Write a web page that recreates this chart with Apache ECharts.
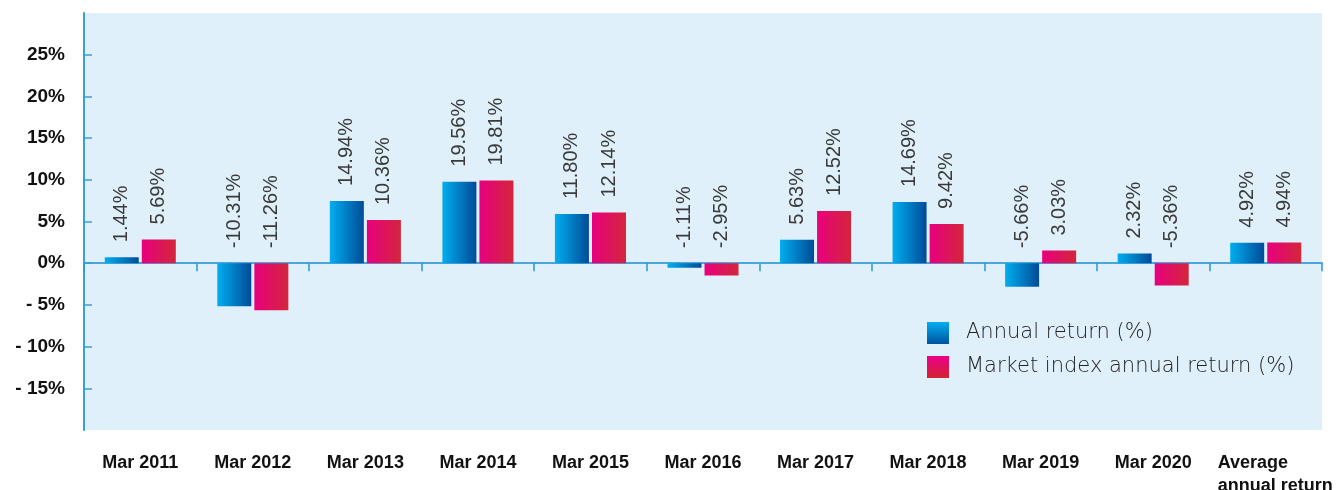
<!DOCTYPE html>
<html>
<head>
<meta charset="utf-8">
<script src="https://cdn.jsdelivr.net/npm/echarts@6/dist/echarts.min.js"></script>
<style>
  html, body { margin: 0; padding: 0; background: #fff; }
  #chart { width: 1336px; height: 490px; }
</style>
</head>
<body>
<div id="chart"></div>
<script>
const categories = ["Mar 2011", "Mar 2012", "Mar 2013", "Mar 2014", "Mar 2015", "Mar 2016", "Mar 2017", "Mar 2018", "Mar 2019", "Mar 2020", "Average\nannual return"]
const annualReturn = [1.44, -10.31, 14.94, 19.56, 11.80, -1.11, 5.63, 14.69, -5.66, 2.32, 4.92]
const marketReturn = [5.69, -11.26, 10.36, 19.81, 12.14, -2.95, 12.52, 9.42, 3.03, -5.36, 4.94]
// in the source picture the printed axis labels are half the bar values
const yTickLabels = [-15, -10, -5, 0, 5, 10, 15, 20, 25]
const axisScale = 2

const chart = echarts.init(document.getElementById("chart"))

const hGrad = (a, b) => new echarts.graphic.LinearGradient(0, 0, 1, 0, [{ offset: 0, color: a }, { offset: 1, color: b }])
const vGrad = (a, b) => new echarts.graphic.LinearGradient(0, 0, 0, 1, [{ offset: 0, color: a }, { offset: 1, color: b }])

const barLabel = {
  show: true,
  position: "top",
  rotate: 90,
  align: "left",
  verticalAlign: "middle",
  distance: 15,
  fontFamily: "Liberation Sans",
  fontSize: 20,
  color: "#3a3a3a",
  formatter: p => p.value.toFixed(2) + "%"
}

const option = {
  animation: false,
  grid: {
    left: 84,
    right: 14,
    top: 13,
    bottom: 60,
    outerBoundsMode: "none",
    containLabel: false,
    show: true,
    backgroundColor: "#dff0fb",
    borderWidth: 0
  },
  legend: {
    orient: "vertical",
    left: 927,
    top: 322,
    padding: 0,
    itemWidth: 22,
    itemHeight: 22,
    itemGap: 12,
    icon: "rect",
    textStyle: {
      fontFamily: "DejaVu Sans",
      fontWeight: 300,
      fontSize: 21,
      color: "#222",
      padding: [2, 0, 0, 12]
    },
    data: [
      { name: "Annual return (%)", itemStyle: { color: vGrad("#00aeef", "#0053a0") } },
      { name: "Market index annual return (%)", itemStyle: { color: vGrad("#ec008c", "#d2232f") } }
    ]
  },
  xAxis: [
    {
      type: "category",
      data: categories,
      position: "bottom",
      axisLine: { show: false, onZero: false },
      axisTick: { show: false },
      axisLabel: {
        interval: 0,
        margin: 22,
        lineHeight: 23,
        fontFamily: "Liberation Sans",
        fontWeight: "bold",
        fontSize: 18,
        color: "#111",
        formatter: v => v.indexOf("\n") >= 0
          ? v.split("\n").map(s => "{l|" + s + "}").join("\n")
          : v,
        rich: {
          l: {
            width: 118,
            align: "left",
            padding: [0, 0, 0, 22],
            fontFamily: "Liberation Sans",
            fontWeight: "bold",
            fontSize: 18,
            color: "#111",
            lineHeight: 23
          }
        }
      }
    },
    {
      type: "category",
      data: categories,
      position: "top",
      axisLine: { show: true, onZero: true, lineStyle: { color: "#4aa6dd", width: 2 } },
      axisTick: { show: true, inside: true, length: 8, lineStyle: { color: "#2f95d3", width: 1.5 } },
      axisLabel: { show: false }
    }
  ],
  yAxis: {
    type: "value",
    min: -40,
    max: 60,
    axisLine: { show: true, lineStyle: { color: "#3a9fd8", width: 2 } },
    axisTick: {
      show: true,
      inside: true,
      length: 8,
      lineStyle: { color: "#3a9fd8", width: 1.5 },
      customValues: yTickLabels.map(v => v * axisScale)
    },
    splitLine: { show: false },
    axisLabel: {
      margin: 19,
      fontFamily: "Liberation Sans",
      fontWeight: "bold",
      fontSize: 19,
      color: "#111",
      customValues: yTickLabels.map(v => v * axisScale),
      formatter: v => {
        const p = Math.round(v / axisScale)
        return p < 0 ? "- " + (-p) + "%" : p + "%"
      }
    }
  },
  series: [
    {
      name: "Annual return (%)",
      type: "bar",
      xAxisIndex: 0,
      barWidth: 34,
      barGap: "9%",
      data: annualReturn,
      itemStyle: { color: hGrad("#00aeef", "#004b97") },
      label: barLabel
    },
    {
      name: "Market index annual return (%)",
      type: "bar",
      xAxisIndex: 0,
      barWidth: 34,
      barGap: "9%",
      data: marketReturn,
      itemStyle: { color: hGrad("#e8007f", "#d3263a") },
      label: barLabel
    }
  ]
}

chart.setOption(option)
</script>
</body>
</html>
